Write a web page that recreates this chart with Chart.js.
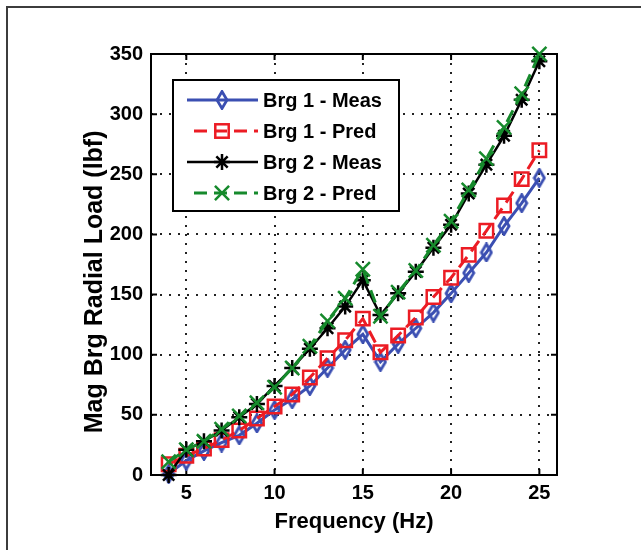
<!DOCTYPE html>
<html><head><meta charset="utf-8">
<script src="https://cdn.jsdelivr.net/npm/chart.js@4/dist/chart.umd.min.js"></script>
<style>
html,body{margin:0;padding:0;background:#fff;overflow:hidden;}
#wrap{position:relative;width:641px;height:550px;overflow:hidden;}
#frame{position:absolute;left:6px;top:6px;width:700px;height:600px;border-top:2px solid #3c3c3c;border-left:2px solid #3c3c3c;}
canvas{position:absolute;left:0;top:0;}
</style></head><body>
<div id="wrap"><div id="frame"></div><canvas id="c" width="641" height="550"></canvas></div>
<script>
const frequency = [4,5,6,7,8,9,10,11,12,13,14,15,16,17,18,19,20,21,22,23,24,25];
const brg1Meas = [1,12,20,27,33,43,54,63,74,89,104,117,94,109,122,135,151,168,185,207,226,247];
const brg1Pred = [9,16,22,29,37,47,57,67,81,97,112,130,102,116,131,148,164,183,203,224,246,270];
const brg2Meas = [0,21,28,37,48,59,74,89,105,122,140,162,133,151,169,189,208,234,258,282,312,344];
const brg2Pred = [11,21,28,38,49,60,73,89,107,128,147,171,132,152,170,191,211,237,263,289,317,350];
const xTicks = [5,10,15,20,25];
const yTicks = [0,50,100,150,200,250,300,350];
const seriesLabels = ['Brg 1 - Meas','Brg 1 - Pred','Brg 2 - Meas','Brg 2 - Pred'];
const xTitle = 'Frequency (Hz)';
const yTitle = 'Mag Brg Radial Load (lbf)';

const BLUE = '#3b4fb2', RED = '#ec1c24', BLACK = '#000000', GREEN = '#168a2c';
const FONT = 'Liberation Sans';

function makeDiamond(color){
  const w = 14, h = 20;
  const c = document.createElement('canvas'); c.width = w; c.height = h;
  const g = c.getContext('2d');
  g.strokeStyle = color; g.lineWidth = 2.8; g.lineJoin = 'miter';
  g.beginPath(); g.moveTo(w/2, 1.5); g.lineTo(w-2, h/2); g.lineTo(w/2, h-1.5); g.lineTo(2, h/2); g.closePath(); g.stroke();
  return c;
}
const diamond = makeDiamond(BLUE);

function pts(arr){ return frequency.map((f,i)=>({x:f, y:arr[i]})); }

const datasets = [
  {label: seriesLabels[0], data: pts(brg1Meas), borderColor: BLUE, borderWidth: 3, pointStyle: diamond, pointRadius: 8,
   pointBorderColor: BLUE, pointBackgroundColor: 'rgba(0,0,0,0)', order: 4, dash: []},
  {label: seriesLabels[1], data: pts(brg1Pred), borderColor: RED, borderWidth: 3, borderDash: [13,7], pointStyle: 'rect', pointRadius: 9.5,
   pointBorderWidth: 2.5, pointBorderColor: RED, pointBackgroundColor: 'rgba(0,0,0,0)', order: 3, dash: [13,7]},
  {label: seriesLabels[2], data: pts(brg2Meas), borderColor: BLACK, borderWidth: 2.5, pointStyle: 'star', pointRadius: 8,
   pointBorderWidth: 2.5, pointBorderColor: BLACK, pointBackgroundColor: 'rgba(0,0,0,0)', order: 2, dash: []},
  {label: seriesLabels[3], data: pts(brg2Pred), borderColor: GREEN, borderWidth: 3, borderDash: [13,7], pointStyle: 'crossRot', pointRadius: 10,
   pointBorderWidth: 2.5, pointBorderColor: GREEN, pointBackgroundColor: 'rgba(0,0,0,0)', order: 1, dash: [13,7]}
];
datasets.forEach(d => { d.fill = false; d.tension = 0; d.clip = false; d.pointHoverRadius = d.pointRadius; });

const boxPlugin = {
  id: 'axesBox',
  beforeDatasetsDraw(chart){
    const {ctx, chartArea: a, scales} = chart;
    ctx.save();
    ctx.strokeStyle = '#000'; ctx.lineWidth = 2;
    ctx.strokeRect(a.left, a.top, a.right - a.left, a.bottom - a.top);
    const tl = 6;
    ctx.beginPath();
    scales.x.ticks.forEach(t => {
      const px = scales.x.getPixelForValue(t.value);
      ctx.moveTo(px, a.bottom); ctx.lineTo(px, a.bottom - tl);
      ctx.moveTo(px, a.top); ctx.lineTo(px, a.top + tl);
    });
    scales.y.ticks.forEach(t => {
      const py = scales.y.getPixelForValue(t.value);
      ctx.moveTo(a.left, py); ctx.lineTo(a.left + tl, py);
      ctx.moveTo(a.right, py); ctx.lineTo(a.right - tl, py);
    });
    ctx.stroke();
    ctx.restore();
  }
};

function drawMarker(ctx, ds, x, y){
  const st = ds.pointStyle, r = ds.pointRadius;
  ctx.save();
  ctx.setLineDash([]);
  ctx.strokeStyle = ds.pointBorderColor; ctx.lineWidth = ds.pointBorderWidth || 2.5;
  if (st instanceof HTMLCanvasElement){
    ctx.drawImage(st, x - st.width/2, y - st.height/2);
  } else if (st === 'rect'){
    const s = Math.SQRT1_2 * r;
    ctx.strokeRect(x - s, y - s, 2*s, 2*s);
  } else if (st === 'star' || st === 'crossRot'){
    ctx.beginPath();
    const a = Math.SQRT1_2 * r;
    ctx.moveTo(x - a, y - a); ctx.lineTo(x + a, y + a);
    ctx.moveTo(x - a, y + a); ctx.lineTo(x + a, y - a);
    if (st === 'star'){ ctx.moveTo(x, y - r); ctx.lineTo(x, y + r); ctx.moveTo(x - r, y); ctx.lineTo(x + r, y); }
    ctx.stroke();
  }
  ctx.restore();
}

const legendPlugin = {
  id: 'boxLegend',
  afterDatasetsDraw(chart){
    const {ctx, chartArea: a} = chart;
    const bx = a.left + 22, by = a.top + 26, bw = 226, bh = 131;
    ctx.save();
    ctx.fillStyle = '#fff';
    ctx.fillRect(bx, by, bw, bh);
    ctx.strokeStyle = '#000'; ctx.lineWidth = 2;
    ctx.strokeRect(bx, by, bw, bh);
    chart.data.datasets.forEach((ds, i) => {
      const ry = by + 20 + i * 31;
      ctx.save();
      ctx.strokeStyle = ds.borderColor; ctx.lineWidth = ds.borderWidth;
      ctx.setLineDash(ds.dash || []);
      ctx.lineDashOffset = (ds.dash && ds.dash.length) ? -7 : 0;
      ctx.beginPath(); ctx.moveTo(bx + 14, ry); ctx.lineTo(bx + 85, ry); ctx.stroke();
      ctx.restore();
      drawMarker(ctx, ds, bx + 49, ry);
      ctx.fillStyle = '#000';
      ctx.font = 'bold 20px "' + FONT + '"';
      ctx.textAlign = 'left'; ctx.textBaseline = 'middle';
      ctx.fillText(ds.label, bx + 90, ry + 1);
    });
    ctx.restore();
  }
};

const tickFont = {family: FONT, weight: 'bold', size: 20};

new Chart(document.getElementById('c'), {
  type: 'line',
  data: {datasets},
  options: {
    responsive: false,
    animation: false,
    devicePixelRatio: 1,
    events: [],
    layout: {padding: {left: 0, top: 54, right: 84, bottom: 0}},
    plugins: {legend: {display: false}, tooltip: {enabled: false}, title: {display: false}},
    scales: {
      x: {
        type: 'linear', min: 3, max: 26,
        afterBuildTicks: s => { s.ticks = xTicks.map(v => ({value: v})); },
        afterFit: s => { s.height = 75; },
        grid: {color: '#222', lineWidth: 2, drawTicks: false},
        border: {display: false, dash: [2, 7]},
        ticks: {font: tickFont, color: '#000', padding: 6, maxRotation: 0},
        title: {display: true, text: xTitle, color: '#000', font: {family: FONT, weight: 'bold', size: 22}, padding: {top: 0, bottom: 15}}
      },
      y: {
        type: 'linear', min: 0, max: 350,
        afterBuildTicks: s => { s.ticks = yTicks.map(v => ({value: v})); },
        afterFit: s => { s.width = 151; },
        grid: {color: '#222', lineWidth: 2, drawTicks: false},
        border: {display: false, dash: [2, 7]},
        ticks: {font: tickFont, color: '#000', padding: 8},
        title: {display: true, text: yTitle + '     ', color: '#000', font: {family: FONT, weight: 'bold', size: 25}, padding: {top: 80, bottom: 0}}
      }
    }
  },
  plugins: [boxPlugin, legendPlugin]
});
</script>
</body></html>
